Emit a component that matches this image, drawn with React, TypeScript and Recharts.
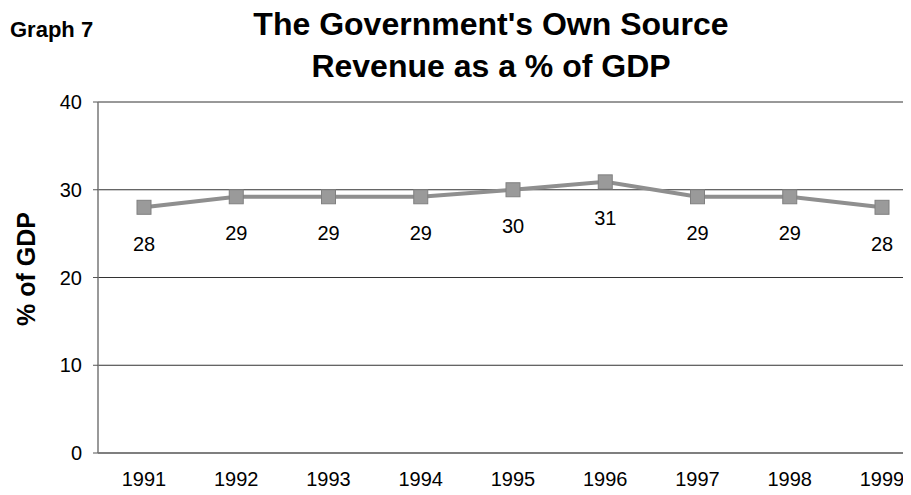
import React from 'react';
import { CartesianGrid, LabelList, Line, LineChart, XAxis, YAxis } from 'recharts';

const years = ['1991', '1992', '1993', '1994', '1995', '1996', '1997', '1998', '1999'];
const revenueShare = [28.0, 29.2, 29.2, 29.2, 30.0, 30.9, 29.2, 29.2, 28.0];
const yTicks = [0, 10, 20, 30, 40];

const data = years.map((year, i) => ({ year, value: revenueShare[i] }));

const FONT = '"Liberation Sans", Arial, sans-serif';

const SquareDot = (props: any) => {
  const { cx, cy } = props;
  if (cx == null || cy == null) return null;
  return <rect x={cx - 7} y={cy - 7} width={14} height={14} fill='#9a9a9a' stroke='#808080' strokeWidth={1} />;
};

export default function App() {
  return (
    <div style={{ position: 'relative', margin: -8, width: 911, height: 495, overflow: 'hidden', background: '#fff', fontFamily: FONT }}>
      <div style={{ position: 'absolute', left: 10, top: 17, fontSize: 22, fontWeight: 'bold', color: '#000', lineHeight: 'normal' }}>Graph 7</div>
      <div style={{ position: 'absolute', left: 191, width: 600, top: 3, textAlign: 'center', fontSize: 32, fontWeight: 'bold', lineHeight: '42px', color: '#000' }}>
        The Government's Own Source
        <br />
        Revenue as a % of GDP
      </div>
      <div
        style={{
          position: 'absolute', left: 26, top: 269, fontSize: 25, fontWeight: 'bold', color: '#000',
          transform: 'translate(-50%, -50%) rotate(-90deg)', whiteSpace: 'nowrap'
        }}
      >
        % of GDP
      </div>
      <div style={{ position: 'absolute', left: 0, top: 0 }}>
        <LineChart width={940} height={495} data={data} margin={{ top: 102, right: 12, bottom: 0, left: 0 }}>
          <CartesianGrid vertical={false} stroke='#333' strokeWidth={1} />
          <XAxis
            dataKey='year'
            height={42}
            padding={{ left: 46, right: 46 }}
            tickSize={0}
            tickMargin={19}
            tickLine={false}
            axisLine={{ stroke: '#777', strokeWidth: 1.5 }}
            tick={{ fontSize: 20, fill: '#000', fontFamily: FONT }}
            interval={0}
          />
          <YAxis
            domain={[0, 40]}
            ticks={yTicks}
            width={98}
            tickSize={5}
            tickMargin={11}
            axisLine={{ stroke: '#777', strokeWidth: 1.5 }}
            tickLine={{ stroke: '#555' }}
            tick={{ fontSize: 20, fill: '#000', fontFamily: FONT }}
          />
          <Line
            dataKey='value'
            stroke='#8f8f8f'
            strokeWidth={4}
            dot={<SquareDot />}
            activeDot={false}
            isAnimationActive={false}
          >
            <LabelList
              dataKey='value'
              position='bottom'
              offset={29}
              formatter={(v: any) => Math.round(Number(v))}
              style={{ fontSize: 20, fill: '#000', fontFamily: FONT }}
            />
          </Line>
        </LineChart>
      </div>
    </div>
  );
}
